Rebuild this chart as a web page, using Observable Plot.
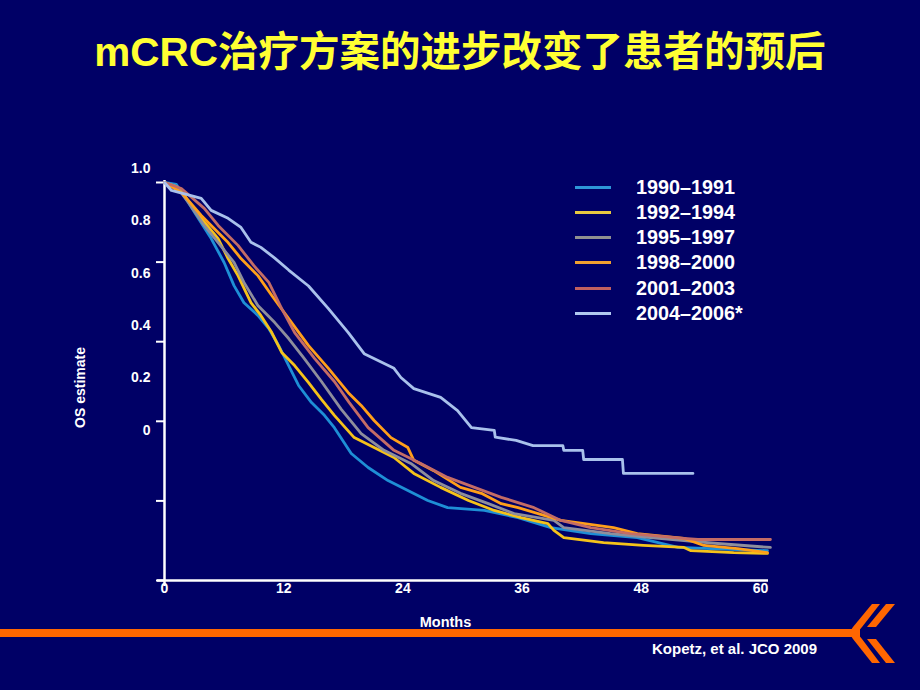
<!DOCTYPE html>
<html><head><meta charset="utf-8">
<script src="https://cdn.jsdelivr.net/npm/d3@7"></script>
<script src="https://cdn.jsdelivr.net/npm/@observablehq/plot@0.6"></script>
<style>
html,body{margin:0;padding:0;background:#000066;}
#page{position:relative;width:920px;height:690px;background:#000066;overflow:hidden;font-family:"Liberation Sans",Arial,sans-serif;}
#title{position:absolute;left:0;top:28px;width:920px;text-align:center;color:#FFFF33;font-weight:bold;font-size:40.5px;line-height:48px;font-family:"Liberation Sans","Noto Sans CJK SC",sans-serif;z-index:2;}
#chart{position:absolute;left:0;top:0;z-index:1;}
#legend{position:absolute;left:575px;top:174.5px;z-index:2;}
.row{position:relative;height:25.3px;}
.swatch{position:absolute;left:0;top:11px;width:36px;height:3px;}
.lab{position:absolute;left:61px;top:0;line-height:25.3px;color:#fff;font-weight:bold;font-size:19.8px;white-space:nowrap;}
#decor{position:absolute;left:0;top:0;z-index:0;}
#cite{position:absolute;left:652px;top:640px;color:#fff;font-weight:bold;font-size:15px;z-index:2;}
</style></head>
<body>
<div id="page">
  <svg id="decor" width="920" height="690">
    <rect x="0" y="629" width="860" height="8" fill="#FF6600"/>
    <polygon points="853,627 862,627 880,604 872,604" fill="#FF6600"/>
    <polygon points="867,627 876,627 895,604 886,604" fill="#FF6600"/>
    <polygon points="853,639 862,639 880,663 872,663" fill="#FF6600"/>
    <polygon points="867,639 876,639 895,663 886,663" fill="#FF6600"/>
    <polygon points="853,627 862,627 857,633 862,639 853,639 849,633" fill="#FF6600"/>
  </svg>
  <div id="title">mCRC治疗方案的进步改变了患者的预后</div>
  <div id="chart"></div>
  <div id="legend"></div>
  <div id="cite">Kopetz, et al. JCO 2009</div>
</div>
<script>
const seriesNames = ["1990–1991","1992–1994","1995–1997","1998–2000","2001–2003","2004–2006*"];
const seriesColors = ["#1E8FD6","#F5C21A","#8E8E9C","#FF9F1A","#C46C66","#A9C1EC"];
const legendColors = ["#2E96D8","#E8C840","#909090","#F0A030","#C06060","#B0C8F0"];
const xTicks = [0,12,24,36,48,60];
const yTicks = [0,0.2,0.4,0.6,0.8,1.0];
const yTickLabels = ["0","0.2","0.4","0.6","0.8","1.0"];

const s1990 = [[0,1],[1.2,0.995],[2.4,0.95],[3.4,0.91],[4.7,0.859],[6.0,0.799],[7.0,0.741],[8.0,0.698],[9.4,0.666],[10.5,0.633],[11.5,0.59],[12.5,0.54],[13.5,0.49],[14.8,0.447],[16.1,0.415],[17.1,0.384],[18.8,0.319],[20.5,0.284],[22.5,0.251],[24.5,0.226],[26.5,0.201],[28.5,0.183],[32.2,0.176],[35.6,0.158],[38.9,0.133],[42.9,0.118],[47.6,0.108],[51.7,0.083],[55.0,0.08],[60.7,0.075]];
const s1992 = [[0,1],[1.2,0.99],[2.0,0.967],[3.7,0.91],[5.4,0.859],[6.4,0.809],[7.4,0.766],[8.7,0.698],[9.7,0.666],[10.8,0.623],[11.8,0.573],[13.1,0.54],[14.5,0.497],[15.8,0.455],[17.1,0.415],[19.1,0.359],[21.1,0.334],[23.1,0.309],[25.1,0.269],[27.8,0.234],[30.6,0.201],[33.2,0.176],[35.9,0.158],[38.6,0.143],[39.2,0.126],[40.2,0.108],[44.2,0.095],[48.2,0.088],[52.3,0.083],[53.0,0.075],[57.3,0.07],[60.7,0.068]];
const s1995 = [[0,1],[1.2,0.99],[2.4,0.95],[4.0,0.892],[5.4,0.849],[7.0,0.799],[8.0,0.749],[9.4,0.691],[11.1,0.648],[12.5,0.608],[14.0,0.56],[15.8,0.5],[17.8,0.43],[19.8,0.369],[22.1,0.327],[24.8,0.294],[27.1,0.251],[29.8,0.219],[32.6,0.193],[35.2,0.168],[39.2,0.151],[40.2,0.133],[44.9,0.118],[48.9,0.108],[52.3,0.1],[55.7,0.093],[61.0,0.083]];
const s1998 = [[0,1],[1.7,0.975],[3.7,0.917],[6.4,0.849],[7.7,0.809],[9.4,0.766],[10.8,0.716],[12.5,0.658],[14.5,0.59],[16.5,0.533],[18.5,0.472],[19.8,0.44],[21.1,0.402],[22.8,0.359],[24.5,0.334],[25.1,0.302],[27.1,0.276],[29.8,0.234],[31.9,0.219],[33.9,0.193],[35.6,0.183],[39.9,0.151],[45.2,0.133],[47.6,0.118],[52.3,0.106],[54.3,0.088],[57.7,0.08],[60.7,0.07]];
const s2001 = [[0,1],[1.7,0.985],[4.0,0.935],[5.4,0.892],[7.4,0.842],[9.0,0.791],[10.5,0.749],[11.8,0.683],[13.1,0.623],[15.1,0.558],[17.1,0.5],[18.6,0.447],[20.5,0.384],[23.1,0.327],[25.8,0.294],[28.5,0.259],[31.2,0.234],[33.9,0.209],[37.2,0.183],[39.9,0.151],[42.9,0.133],[46.9,0.118],[52.3,0.106],[53.7,0.103],[61.0,0.103]];
const s2004 = [[0,1],[0.7,0.98],[3.7,0.96],[4.7,0.93],[6.4,0.91],[7.7,0.887],[8.7,0.85],[9.7,0.837],[11.1,0.81],[12.5,0.78],[14.5,0.74],[16.5,0.683],[18.5,0.623],[20.1,0.57],[23.1,0.533],[23.8,0.51],[25.1,0.482],[27.8,0.46],[29.5,0.427],[30.9,0.384],[33.2,0.377],[33.3,0.36],[35.4,0.352],[37.1,0.339],[40.1,0.339],[40.2,0.327],[42.1,0.327],[42.2,0.304],[46.1,0.304],[46.2,0.269],[53.2,0.269]];

const seriesData = [s1990,s1992,s1995,s1998,s2001,s2004];
const table = seriesData.flatMap((arr,i) => arr.map(([m,v]) => ({series: seriesNames[i], month: m, os: v})));

// labels in the source slide sit on a compressed track beside the ticks
const labelBase = 0.377, labelStep = 0.659;

const chart = Plot.plot({
  width: 920, height: 690,
  marginLeft: 164, marginRight: 160, marginTop: 182, marginBottom: 110,
  style: {background: "transparent", color: "white", fontFamily: "Liberation Sans, Arial, sans-serif"},
  x: {domain: [0,60]},
  y: {domain: [0,1]},
  color: {domain: seriesNames, range: seriesColors},
  marks: [
    Plot.axisY({ticks: yTicks, tickSize: 8, tickFormat: () => "", stroke: "white", strokeWidth: 2, label: null}),
    Plot.axisX({ticks: xTicks, tickSize: 0, tickPadding: 3, fontSize: 14, fontWeight: "bold", fill: "white", label: null}),
    Plot.ruleX([0], {stroke: "white", strokeWidth: 2.5, insetTop: -2, insetBottom: -6}),
    Plot.ruleY([0], {stroke: "white", strokeWidth: 2.5, insetLeft: -7, insetRight: -8}),
    Plot.text(yTicks, {x: 0, y: d => labelBase + d*labelStep, text: (d,i) => yTickLabels[i], textAnchor: "end", dx: -14, fill: "white", fontWeight: "bold", fontSize: 14}),
    Plot.line(table, {x: "month", y: "os", z: "series", stroke: "series", strokeWidth: 2.8}),
    Plot.text(["Months"], {frameAnchor: "bottom", textAnchor: "middle", dx: -17, dy: 46, fill: "white", fontWeight: "bold", fontSize: 14.5}),
    Plot.text(["OS estimate"], {frameAnchor: "left", textAnchor: "middle", rotate: -90, dx: -84, dy: 6, fill: "white", fontWeight: "bold", fontSize: 14})
  ]
});
document.getElementById("chart").appendChild(chart);

const legend = document.getElementById("legend");
seriesNames.forEach((n,i) => {
  const row = document.createElement("div"); row.className = "row";
  const sw = document.createElement("div"); sw.className = "swatch"; sw.style.background = legendColors[i];
  const lb = document.createElement("div"); lb.className = "lab"; lb.textContent = n;
  row.appendChild(sw); row.appendChild(lb); legend.appendChild(row);
});
</script>
</body></html>
